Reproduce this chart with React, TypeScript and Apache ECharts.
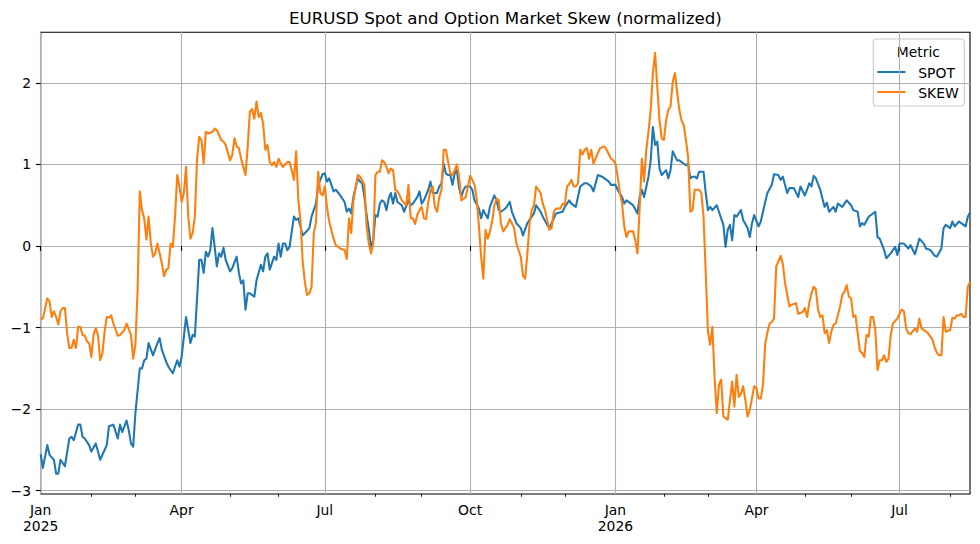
import React, { useEffect, useRef } from "react";
import * as echarts from "echarts";

// ---- data ----
const START_DATE = "2025-01-01";
const END_DATE = "2026-08-14";
const MONTH_NAMES = ["Jan", "Feb", "Mar", "Apr", "May", "Jun", "Jul", "Aug", "Sep", "Oct", "Nov", "Dec"];
const QUARTER_MONTHS = [0, 3, 6, 9];
const Y_TICKS = [-3, -2, -1, 0, 1, 2];
const SERIES_NAMES = ["SPOT", "SKEW"];
const LEGEND_TITLE = "Metric";
const CHART_TITLE = "EURUSD Spot and Option Market Skew (normalized)";

// [business-day index from START_DATE, normalized value]
const spotPoints: [number, number][] = [
  [0, -2.55], [1, -2.72], [3, -2.44], [4, -2.56], [6, -2.62], [7, -2.79], [8, -2.79], [9, -2.62], [10, -2.66], [11, -2.7],
  [13, -2.36], [14, -2.34], [15, -2.38], [17, -2.19], [18, -2.19], [19, -2.34], [20, -2.36], [22, -2.44], [23, -2.52], [25, -2.42],
  [26, -2.52], [27, -2.62], [29, -2.5], [30, -2.44], [31, -2.21], [33, -2.19], [35, -2.36], [36, -2.19], [37, -2.28], [39, -2.14],
  [40, -2.26], [41, -2.42], [42, -2.46], [43, -2.05], [45, -1.5], [46, -1.5], [47, -1.4], [48, -1.38], [49, -1.19], [51, -1.34],
  [53, -1.19], [54, -1.13], [55, -1.27], [57, -1.42], [58, -1.48], [60, -1.56], [62, -1.4], [63, -1.48], [64, -1.36], [66, -0.87],
  [68, -1.19], [69, -1.09], [70, -1.11], [72, -0.17], [73, -0.17], [74, -0.33], [75, -0.07], [76, -0.13], [77, -0.05], [78, 0.22],
  [79, -0.01], [80, -0.25], [81, -0.09], [82, -0.13], [83, -0.02], [84, -0.17], [86, -0.31], [87, -0.27], [89, -0.13], [90, -0.33],
  [91, -0.46], [92, -0.42], [93, -0.78], [94, -0.58], [95, -0.58], [97, -0.62], [98, -0.42], [100, -0.23], [101, -0.31], [102, -0.13],
  [103, -0.09], [104, -0.29], [106, -0.13], [107, -0.17], [108, 0.03], [109, -0.13], [110, 0.03], [111, 0.03], [112, -0.05], [113, -0.01],
  [115, 0.36], [116, 0.32], [117, 0.34], [119, 0.13], [120, 0.16], [122, 0.22], [123, 0.36], [125, 0.52], [126, 0.75], [128, 0.88],
  [129, 0.89], [130, 0.79], [131, 0.83], [133, 0.67], [134, 0.69], [136, 0.62], [138, 0.54], [139, 0.42], [140, 0.46], [141, 0.4],
  [142, 0.6], [144, 0.83], [145, 0.79], [146, 0.77], [147, 0.6], [148, 0.38], [149, 0.2], [150, -0.01], [151, 0.07], [152, 0.38],
  [153, 0.36], [154, 0.52], [155, 0.56], [156, 0.54], [157, 0.44], [158, 0.58], [159, 0.65], [160, 0.52], [161, 0.65], [162, 0.54],
  [164, 0.5], [165, 0.42], [167, 0.56], [168, 0.5], [169, 0.52], [171, 0.6], [172, 0.67], [173, 0.52], [174, 0.56], [176, 0.69],
  [177, 0.79], [178, 0.65], [180, 0.65], [181, 0.73], [182, 0.77], [183, 1.01], [184, 0.89], [185, 0.87], [186, 0.87], [187, 0.75],
  [188, 0.89], [189, 0.93], [190, 0.71], [191, 0.6], [192, 0.69], [193, 0.73], [195, 0.73], [196, 0.69], [197, 0.56], [199, 0.46],
  [200, 0.34], [201, 0.44], [203, 0.34], [204, 0.48], [206, 0.62], [207, 0.56], [208, 0.44], [209, 0.42], [211, 0.46], [213, 0.54],
  [214, 0.42], [216, 0.28], [218, 0.22], [219, 0.13], [221, 0.28], [222, 0.32], [224, 0.4], [225, 0.5], [227, 0.42], [228, 0.36],
  [230, 0.26], [231, 0.22], [233, 0.34], [234, 0.4], [237, 0.42], [238, 0.48], [240, 0.56], [241, 0.52], [243, 0.48], [245, 0.73],
  [247, 0.77], [248, 0.77], [250, 0.73], [251, 0.67], [253, 0.87], [255, 0.85], [256, 0.83], [258, 0.79], [259, 0.75], [261, 0.75],
  [262, 0.69], [264, 0.6], [265, 0.52], [266, 0.56], [268, 0.52], [269, 0.5], [271, 0.4], [272, 0.6], [273, 0.69], [274, 0.6],
  [276, 0.85], [277, 1.05], [278, 1.46], [279, 1.24], [280, 1.28], [281, 0.95], [282, 0.87], [284, 0.93], [285, 0.83], [286, 0.93],
  [287, 1.16], [289, 1.05], [290, 1.05], [291, 1.03], [293, 0.99], [294, 1.01], [295, 0.83], [296, 0.85], [297, 0.85], [298, 0.83],
  [299, 0.91], [301, 0.91], [302, 0.65], [303, 0.44], [304, 0.48], [305, 0.44], [307, 0.5], [308, 0.42], [310, 0.26], [311, -0.01],
  [312, 0.2], [313, 0.26], [314, 0.07], [315, 0.38], [316, 0.36], [318, 0.44], [319, 0.32], [321, 0.22], [322, 0.11], [323, 0.28],
  [324, 0.38], [326, 0.24], [327, 0.3], [329, 0.54], [330, 0.65], [332, 0.75], [333, 0.88], [335, 0.87], [336, 0.81], [337, 0.85],
  [339, 0.65], [340, 0.71], [342, 0.71], [344, 0.6], [345, 0.73], [347, 0.62], [348, 0.69], [349, 0.77], [350, 0.73], [351, 0.86],
  [352, 0.83], [354, 0.69], [355, 0.58], [356, 0.48], [357, 0.53], [358, 0.42], [360, 0.48], [361, 0.42], [362, 0.52], [364, 0.48],
  [365, 0.52], [366, 0.56], [368, 0.5], [369, 0.44], [371, 0.42], [372, 0.24], [373, 0.28], [374, 0.26], [376, 0.36], [377, 0.38],
  [379, 0.42], [380, 0.11], [381, 0.09], [383, -0.05], [384, -0.15], [386, -0.09], [388, -0.01], [389, -0.11], [390, 0.03], [392, 0.03],
  [394, -0.03], [395, 0.01], [397, -0.1], [399, 0.09], [401, 0.03], [402, -0.03], [404, -0.05], [406, -0.12], [407, -0.13], [409, -0.03],
  [410, 0.22], [411, 0.26], [413, 0.22], [414, 0.3], [415, 0.24], [417, 0.3], [418, 0.28], [420, 0.24], [421, 0.36], [422, 0.41],
];

const skewPoints: [number, number][] = [
  [0, -0.89], [1, -0.89], [3, -0.64], [4, -0.68], [5, -0.87], [6, -0.8], [7, -0.87], [8, -0.96], [9, -0.8], [10, -0.76],
  [11, -0.76], [12, -1.07], [13, -1.25], [14, -1.25], [15, -1.15], [16, -1.25], [17, -0.99], [18, -0.99], [19, -1.09], [20, -1.1],
  [21, -1.17], [22, -1.19], [23, -1.36], [24, -1.09], [25, -1.01], [26, -1.09], [27, -1.4], [28, -1.32], [29, -1.05], [30, -0.87],
  [31, -0.88], [32, -0.85], [33, -0.95], [35, -1.1], [36, -1.09], [38, -1.03], [39, -0.95], [41, -1.09], [42, -1.38], [43, -1.21],
  [44, -0.54], [45, 0.67], [46, 0.44], [47, 0.34], [48, 0.08], [49, 0.36], [50, 0.03], [51, -0.13], [52, -0.09], [53, 0.03],
  [55, -0.21], [56, -0.37], [57, -0.29], [58, -0.27], [59, 0.03], [60, -0.01], [61, 0.36], [62, 0.87], [63, 0.73], [64, 0.54],
  [65, 0.65], [66, 0.97], [67, 0.36], [68, 0.09], [69, 0.16], [70, 0.36], [71, 1.07], [72, 1.34], [73, 1.3], [74, 1.01],
  [75, 1.4], [76, 1.38], [78, 1.4], [79, 1.44], [80, 1.42], [82, 1.3], [83, 1.28], [84, 1.24], [86, 1.05], [87, 1.12],
  [88, 1.32], [89, 1.22], [90, 1.2], [91, 1.07], [93, 0.87], [94, 1.22], [95, 1.65], [96, 1.68], [97, 1.56], [98, 1.77],
  [99, 1.58], [100, 1.63], [101, 1.5], [102, 1.18], [103, 1.24], [104, 1.03], [105, 0.99], [106, 1.03], [107, 0.97], [108, 1.07],
  [109, 1.01], [110, 0.97], [112, 1.03], [113, 1.03], [114, 0.93], [115, 0.81], [116, 1.16], [117, 0.56], [118, 0.3], [119, -0.2],
  [120, -0.45], [121, -0.6], [122, -0.58], [123, -0.5], [124, 0.16], [125, 0.28], [126, 0.91], [127, 0.65], [128, 0.62], [129, 0.73],
  [130, 0.48], [131, 0.3], [133, 0.09], [134, 0.01], [136, -0.03], [138, -0.05], [139, -0.16], [140, 0.34], [141, 0.16], [142, 0.56],
  [144, 0.87], [145, 0.85], [147, 0.75], [148, 0.24], [149, 0.03], [150, -0.09], [151, 0.03], [152, 0.87], [153, 0.91], [154, 0.91],
  [155, 1.05], [156, 1.03], [157, 0.97], [158, 0.89], [159, 0.95], [160, 0.93], [161, 0.69], [162, 0.67], [163, 0.62], [164, 0.56],
  [166, 0.5], [167, 0.75], [168, 0.34], [169, 0.34], [170, 0.27], [171, 0.38], [172, 0.44], [173, 0.48], [174, 0.34], [175, 0.33],
  [176, 0.54], [177, 0.69], [178, 0.73], [179, 0.48], [180, 0.42], [181, 0.6], [182, 0.69], [183, 1.18], [184, 1.18], [186, 0.89],
  [187, 0.87], [188, 0.93], [189, 1.0], [190, 0.85], [191, 0.56], [192, 0.58], [193, 0.6], [194, 0.73], [195, 0.86], [196, 0.81],
  [197, 0.75], [198, 0.58], [199, 0.24], [200, -0.13], [201, -0.4], [202, 0.2], [203, 0.09], [204, 0.18], [205, 0.3], [206, 0.5],
  [207, 0.58], [208, 0.56], [209, 0.28], [210, 0.18], [211, 0.22], [212, 0.26], [213, 0.33], [215, 0.22], [216, 0.03], [218, -0.13],
  [219, -0.36], [220, -0.4], [221, -0.09], [222, 0.28], [223, 0.44], [224, 0.5], [225, 0.73], [226, 0.69], [227, 0.65], [228, 0.52],
  [229, 0.44], [230, 0.32], [231, 0.2], [232, 0.22], [233, 0.42], [234, 0.46], [236, 0.46], [237, 0.52], [238, 0.5], [239, 0.73],
  [240, 0.76], [241, 0.81], [242, 0.73], [243, 0.73], [244, 0.77], [245, 1.18], [246, 1.12], [247, 1.18], [248, 1.2], [249, 1.07],
  [250, 1.18], [251, 1.01], [253, 1.14], [254, 1.2], [256, 1.22], [257, 1.18], [259, 1.07], [260, 1.05], [261, 1.01], [262, 0.85],
  [263, 0.65], [264, 0.52], [265, 0.24], [266, 0.11], [267, 0.18], [269, 0.18], [270, 0.07], [271, -0.09], [272, 0.48], [273, 1.07],
  [274, 0.79], [275, 1.18], [276, 1.4], [277, 1.67], [278, 2.12], [279, 2.37], [280, 1.95], [281, 1.54], [282, 1.32], [283, 1.3],
  [284, 1.54], [285, 1.67], [286, 1.71], [287, 2.01], [288, 2.12], [289, 1.89], [290, 1.67], [291, 1.54], [292, 1.48], [293, 1.3],
  [294, 1.09], [295, 0.42], [296, 0.44], [297, 0.69], [299, 0.69], [300, 0.65], [301, 0.36], [302, -0.33], [303, -1.05], [304, -1.21],
  [305, -0.99], [306, -1.6], [307, -2.05], [308, -1.7], [309, -1.64], [310, -2.09], [311, -2.11], [312, -2.13], [313, -1.89], [314, -1.66],
  [315, -1.97], [316, -1.58], [317, -1.85], [318, -1.81], [319, -1.72], [320, -1.89], [321, -2.09], [322, -2.01], [324, -1.72], [325, -1.74],
  [326, -1.87], [327, -1.87], [328, -1.7], [329, -1.2], [330, -1.06], [331, -0.95], [332, -0.93], [333, -0.89], [334, -0.25], [335, -0.19],
  [336, -0.12], [337, -0.22], [338, -0.45], [339, -0.6], [340, -0.74], [341, -0.72], [343, -0.7], [344, -0.83], [346, -0.81], [347, -0.76],
  [348, -0.87], [349, -0.7], [350, -0.58], [351, -0.5], [352, -0.53], [353, -0.78], [354, -0.87], [355, -0.85], [356, -1.07], [357, -1.03],
  [358, -1.19], [359, -1.05], [360, -0.97], [361, -0.95], [362, -0.85], [363, -0.74], [364, -0.6], [365, -0.56], [366, -0.48], [367, -0.62],
  [368, -0.64], [369, -0.87], [370, -0.85], [371, -1.07], [372, -1.29], [373, -1.31], [374, -1.36], [375, -1.09], [376, -1.11], [377, -0.87],
  [378, -0.87], [379, -1.03], [380, -1.52], [381, -1.4], [382, -1.4], [383, -1.34], [384, -1.42], [385, -1.38], [386, -1.09], [387, -0.95],
  [389, -0.89], [390, -0.83], [391, -0.78], [392, -0.8], [393, -1.01], [394, -1.07], [395, -1.08], [397, -1.01], [398, -1.05], [399, -0.89],
  [400, -1.01], [402, -1.05], [403, -1.07], [405, -1.15], [406, -1.25], [407, -1.31], [408, -1.34], [409, -1.34], [410, -0.87], [411, -1.05],
  [413, -1.03], [414, -0.88], [415, -0.89], [416, -0.85], [417, -0.85], [418, -0.83], [419, -0.87], [420, -0.87], [421, -0.5], [422, -0.44],
];

// ---- helpers ----
function businessDays(start: string, end: string): string[] {
  const out: string[] = [];
  const d = new Date(start + "T00:00:00Z");
  const e = new Date(end + "T00:00:00Z");
  while (d.getTime() <= e.getTime()) {
    const wd = d.getUTCDay();
    if (wd !== 0 && wd !== 6) out.push(d.toISOString().slice(0, 10));
    d.setUTCDate(d.getUTCDate() + 1);
  }
  return out;
}

const FONT = "DejaVu Sans";
const SPOT_COLOR = "#1f77b4";
const SKEW_COLOR = "#ff7f0e";

export default function App() {
  const ref = useRef<HTMLDivElement>(null);

  useEffect(() => {
    if (!ref.current) return;
    const chart = echarts.init(ref.current, undefined, { renderer: "svg" });

    const dates = businessDays(START_DATE, END_DATE);
    const monthStart = new Set<number>();
    const quarterStart = new Set<number>();
    dates.forEach((d, i) => {
      const m = d.slice(0, 7);
      if (i === 0 || dates[i - 1].slice(0, 7) !== m) {
        const month = Number(d.slice(5, 7)) - 1;
        if (QUARTER_MONTHS.includes(month)) quarterStart.add(i);
        else monthStart.add(i);
      }
    });

    const isQuarter = (idx: number) => quarterStart.has(idx);
    const isMinor = (idx: number) => monthStart.has(idx);

    const left = 40.7;
    const right = 970;
    const top = 32.3;
    const bottom = 494;

    chart.setOption({
      animation: false,
      backgroundColor: "#ffffff",
      textStyle: { fontFamily: FONT },
      grid: {
        left,
        top,
        right: 980 - right,
        bottom: 544 - bottom,
        show: true,
        borderColor: "#000000",
        borderWidth: 1.1,
        backgroundColor: "transparent",
        containLabel: false,
      },
      xAxis: [
        {
          type: "category",
          data: dates,
          boundaryGap: false,
          axisLine: { show: false },
          axisTick: {
            show: true,
            inside: false,
            length: 4.9,
            interval: (idx: number) => isQuarter(idx),
            lineStyle: { color: "#000", width: 1.1 },
          },
          axisLabel: {
            show: true,
            interval: (idx: number) => isQuarter(idx),
            margin: 8,
            color: "#000",
            fontFamily: FONT,
            fontSize: 13.9,
            lineHeight: 16,
            formatter: (value: string) => {
              const month = Number(value.slice(5, 7)) - 1;
              const year = value.slice(0, 4);
              return month === 0 ? `${MONTH_NAMES[month]}\n${year}` : MONTH_NAMES[month];
            },
          },
          splitLine: {
            show: true,
            interval: (idx: number) => isQuarter(idx),
            lineStyle: { color: "#b0b0b0", width: 1.1 },
          },
        },
        {
          type: "category",
          data: dates,
          position: "bottom",
          boundaryGap: false,
          axisLine: { show: false },
          axisLabel: { show: false },
          splitLine: { show: false },
          axisTick: {
            show: true,
            length: 2.8,
            interval: (idx: number) => isMinor(idx),
            lineStyle: { color: "#000", width: 0.85 },
          },
        },
      ],
      yAxis: {
        type: "value",
        min: -3.04,
        max: 2.62,
        minInterval: 1,
        maxInterval: 1,
        axisLine: { show: false },
        axisTick: {
          show: true,
          length: 4.9,
          customValues: Y_TICKS,
          lineStyle: { color: "#000", width: 1.1 },
        },
        axisLabel: {
          show: true,
          margin: 9.7,
          customValues: Y_TICKS,
          color: "#000",
          fontFamily: FONT,
          fontSize: 13.9,
          formatter: (v: number) => {
            if (Math.abs(v - Math.round(v)) > 1e-6) return "";
            const r = Math.round(v);
            return r < 0 ? "\u2212" + Math.abs(r) : String(r);
          },
        },
        splitLine: { show: true, lineStyle: { color: "#b0b0b0", width: 1.1 } },
      },
      series: [
        {
          name: SERIES_NAMES[0],
          type: "line",
          xAxisIndex: 0,
          data: spotPoints,
          showSymbol: false,
          symbol: "none",
          lineStyle: { color: SPOT_COLOR, width: 2.08, join: "round" },
          itemStyle: { color: SPOT_COLOR },
          z: 3,
        },
        {
          name: SERIES_NAMES[1],
          type: "line",
          xAxisIndex: 0,
          data: skewPoints,
          showSymbol: false,
          symbol: "none",
          lineStyle: { color: SKEW_COLOR, width: 2.08, join: "round" },
          itemStyle: { color: SKEW_COLOR },
          z: 4,
        },
      ],
      graphic: [
        {
          type: "text",
          x: (left + right) / 2,
          y: 18,
          style: {
            text: CHART_TITLE,
            font: `16.67px "${FONT}"`,
            fill: "#000",
            textAlign: "center",
            textVerticalAlign: "middle",
          },
        },
        {
          type: "group",
          z: 100,
          children: [
            {
              type: "rect",
              shape: { x: 873.3, y: 39, width: 91, height: 67, r: 3 },
              style: { fill: "rgba(255,255,255,0.8)", stroke: "#cccccc", lineWidth: 1.1 },
            },
            {
              type: "text",
              x: 918.3,
              y: 51.5,
              style: {
                text: LEGEND_TITLE,
                font: `13.89px "${FONT}"`,
                fill: "#000",
                textAlign: "center",
                textVerticalAlign: "middle",
              },
            },
            {
              type: "line",
              shape: { x1: 877.3, y1: 72, x2: 905.5, y2: 72 },
              style: { stroke: SPOT_COLOR, lineWidth: 2.08 },
            },
            {
              type: "text",
              x: 918.3,
              y: 72.5,
              style: {
                text: SERIES_NAMES[0],
                font: `13.89px "${FONT}"`,
                fill: "#000",
                textAlign: "left",
                textVerticalAlign: "middle",
              },
            },
            {
              type: "line",
              shape: { x1: 877.3, y1: 92, x2: 905.5, y2: 92 },
              style: { stroke: SKEW_COLOR, lineWidth: 2.08 },
            },
            {
              type: "text",
              x: 918.3,
              y: 92.5,
              style: {
                text: SERIES_NAMES[1],
                font: `13.89px "${FONT}"`,
                fill: "#000",
                textAlign: "left",
                textVerticalAlign: "middle",
              },
            },
          ],
        },
      ],
    });

    return () => chart.dispose();
  }, []);

  return (
    <div
      ref={ref}
      style={{ position: "fixed", left: 0, top: 0, width: 980, height: 544, background: "#fff" }}
    />
  );
}
